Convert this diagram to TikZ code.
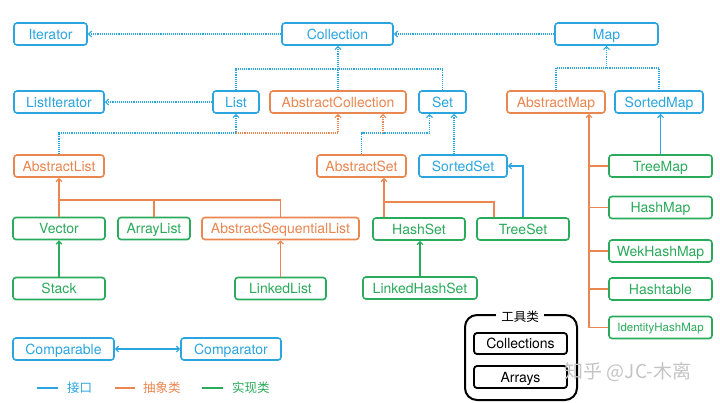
\documentclass[tikz,border=0pt]{standalone}
\usepackage{fontspec}
\setmainfont{TeX Gyre Heros}
\newfontfamily\cjk{Noto Sans CJK SC}
\usetikzlibrary{arrows.meta}
\definecolor{cblue}{HTML}{2AA5DF}
\definecolor{corange}{HTML}{EA8650}
\definecolor{cgreen}{HTML}{2AAA5B}
\definecolor{cmark}{HTML}{C4C4C4}
\tikzset{
  box/.style={draw, rounded corners=3pt, line width=1.6pt, minimum height=22pt, inner sep=0pt, fill=white, font=\fontsize{14}{14}\selectfont, text height=10pt, text depth=0pt},
  ifc/.style={box, draw=cblue, text=cblue},
  abs/.style={box, draw=corange, text=corange},
  imp/.style={box, draw=cgreen, text=cgreen},
  tool/.style={box, draw=black, text=black, line width=1.8pt},
  arr/.style={-{Straight Barb[length=3pt,width=6pt]}},
  dots/.style={line width=1.1pt, dash pattern=on 1.1pt off 1pt},
  solidl/.style={line width=1.2pt},
}
\begin{document}
\begin{tikzpicture}[x=1pt,y=-1pt]
\useasboundingbox (0,0) rectangle (720,402);
% nodes
\node[ifc, minimum width=73pt] (Iterator) at (50.5,34) {Iterator};
\node[ifc, minimum width=111pt] (Collection) at (337.5,34) {Collection};
\node[ifc, minimum width=103pt] (Map) at (606.5,34) {Map};
\node[ifc, minimum width=90pt] (ListIterator) at (59,102) {ListIterator};
\node[ifc, minimum width=46pt] (List) at (236,102) {List};
\node[abs, minimum width=136pt] (AbstractCollection) at (338,102) {AbstractCollection};
\node[ifc, minimum width=47pt] (Set) at (442.5,102) {Set};
\node[abs, minimum width=98pt] (AbstractMap) at (556,102) {AbstractMap};
\node[ifc, minimum width=88pt] (SortedMap) at (659,102) {SortedMap};
\node[abs, minimum width=90pt] (AbstractList) at (59,166) {AbstractList};
\node[abs, minimum width=89pt] (AbstractSet) at (361.5,166) {AbstractSet};
\node[ifc, minimum width=88pt] (SortedSet) at (463,166) {SortedSet};
\node[imp, minimum width=103pt] (TreeMap) at (660.5,166) {TreeMap};
\node[imp, minimum width=92pt] (Vector) at (59,228.5) {Vector};
\node[imp, minimum width=72pt] (ArrayList) at (154,228.5) {ArrayList};
\node[abs, minimum width=157pt] (AbstractSequentialList) at (280.5,228.5) {AbstractSequentialList};
\node[imp, minimum width=92pt] (HashSet) at (419,229) {HashSet};
\node[imp, minimum width=92pt] (TreeSet) at (523,229) {TreeSet};
\node[imp, minimum width=103pt] (HashMap) at (660.5,207.5) {HashMap};
\node[imp, minimum width=103pt] (WekHashMap) at (660.5,251) {WekHashMap};
\node[imp, minimum width=103pt] (Hashtable) at (660.5,289) {Hashtable};
\node[imp, minimum width=103pt, font=\fontsize{11.5}{11.5}\selectfont, text height=8.5pt, text depth=0pt] (IdentityHashMap) at (660.5,327.5) {IdentityHashMap};
\node[imp, minimum width=92pt] (Stack) at (59,288.5) {Stack};
\node[imp, minimum width=91pt] (LinkedList) at (280.5,288.5) {LinkedList};
\node[imp, minimum width=114pt] (LinkedHashSet) at (420,288) {LinkedHashSet};
\node[ifc, minimum width=101pt] (Comparable) at (63.5,349) {Comparable};
\node[ifc, minimum width=100pt] (Comparator) at (231,349) {Comparator};
% tool box
\node[draw=black, line width=2pt, rounded corners=12pt, minimum width=112pt, minimum height=85pt, inner sep=0pt] (ToolBox) at (521,357.5) {};
\node[fill=white, inner xsep=5pt, inner ysep=1pt, font=\cjk\fontsize{12.5}{12.5}\selectfont] (ToolLabel) at (520,317) {工具类};
\node[tool, minimum width=93pt, minimum height=21pt] (Collections) at (520.5,343.5) {Collections};
\node[tool, minimum width=93pt] (Arrays) at (520.5,377) {Arrays};
% legend
\coordinate (lg1a) at (37,388); \coordinate (lg1b) at (58,388);
\coordinate (lg2a) at (115,388); \coordinate (lg2b) at (135,388);
\coordinate (lg3a) at (202,388); \coordinate (lg3b) at (223,388);
\draw[cblue, line width=2.5pt] (lg1a) -- (lg1b);
\draw[corange, line width=2.5pt] (lg2a) -- (lg2b);
\draw[cgreen, line width=2.5pt] (lg3a) -- (lg3b);
\node[anchor=west, text=cblue, inner sep=0pt, font=\cjk\fontsize{12.5}{12.5}\selectfont] (L1) at (67,388) {接口};
\node[anchor=west, text=corange, inner sep=0pt, font=\cjk\fontsize{12.5}{12.5}\selectfont] (L2) at (143,388) {抽象类};
\node[anchor=west, text=cgreen, inner sep=0pt, font=\cjk\fontsize{12.5}{12.5}\selectfont] (L3) at (232,388) {实现类};
% connectors: interfaces (dotted blue)
\draw[cblue, dots, arr] (Collection.west) -- (Iterator.east);
\draw[cblue, dots, arr] (Map.west) -- (Collection.east);
\draw[cblue, dots, arr] (List.west) -- (ListIterator.east);
\coordinate (cb) at (338,69);
\draw[cblue, dots] (List.north) |- (cb) -| (Set.north);
\draw[cblue, dots, arr] (AbstractCollection.north) -- (AbstractCollection.north |- Collection.south);
\coordinate (al) at (236,133);
\draw[cblue, dots, arr] (AbstractList.north) |- (al) -- (List.south);
\draw[corange, dots, arr] (al) -| (AbstractCollection.south);
\coordinate (as) at (383,133);
\draw[cblue, dots, arr] (AbstractSet.north) |- (as) -| ([xshift=-13pt]Set.south);
\draw[corange, dots, arr] (as) -- (as |- AbstractCollection.south);
\draw[cblue, dots, arr] ([xshift=-9pt]SortedSet.north) -- ([xshift=-9pt]SortedSet.north |- Set.south);
\coordinate (mb) at (606.5,68);
\draw[cblue, dots] (AbstractMap.north) |- (mb) -| (SortedMap.north);
\draw[cblue, dots, arr] (mb) -- (Map.south);
% list hierarchy
\coordinate (lb) at (59,200);
\draw[corange, solidl, arr] (Vector.north) -- (AbstractList.south);
\draw[corange, solidl] (ArrayList.north) |- (lb);
\draw[corange, solidl] (AbstractSequentialList.north) |- (lb);
\draw[cgreen, solidl, arr] (Stack.north) -- (Vector.south);
\draw[corange, solidl, arr] (LinkedList.north) -- (AbstractSequentialList.south);
% set hierarchy
\coordinate (sb) at (384,202);
\draw[corange, solidl, arr] ([xshift=-35pt]HashSet.north) -- ([xshift=-35pt]HashSet.north |- AbstractSet.south);
\draw[corange, solidl] ([xshift=-29pt]TreeSet.north) |- (sb);
\draw[cblue, solidl, arr] (TreeSet.north) |- (SortedSet.east);
\draw[cgreen, solidl, arr] (LinkedHashSet.north) -- (LinkedHashSet.north |- HashSet.south);
% map hierarchy
\draw[cblue, solidl, arr] (TreeMap.north) -- (TreeMap.north |- SortedMap.south);
\coordinate (mt) at ([xshift=33pt]AbstractMap.south);
\draw[corange, solidl, arr] (mt |- IdentityHashMap.west) -- (mt);
\foreach \n in {TreeMap,HashMap,WekHashMap,Hashtable,IdentityHashMap}
  \draw[corange, solidl] (mt |- \n.west) -- (\n.west);
% comparable
\draw[cblue, solidl, {Straight Barb[length=3pt,width=6pt]}-{Straight Barb[length=3pt,width=6pt]}] (Comparable.east) -- (Comparator.west);
% watermark (on top)
\node[text=cmark, font=\cjk\fontsize{19}{19}\selectfont, inner sep=0pt] (Mark) at (628,372) {知乎 @JC-木离};
\end{tikzpicture}
\end{document}
